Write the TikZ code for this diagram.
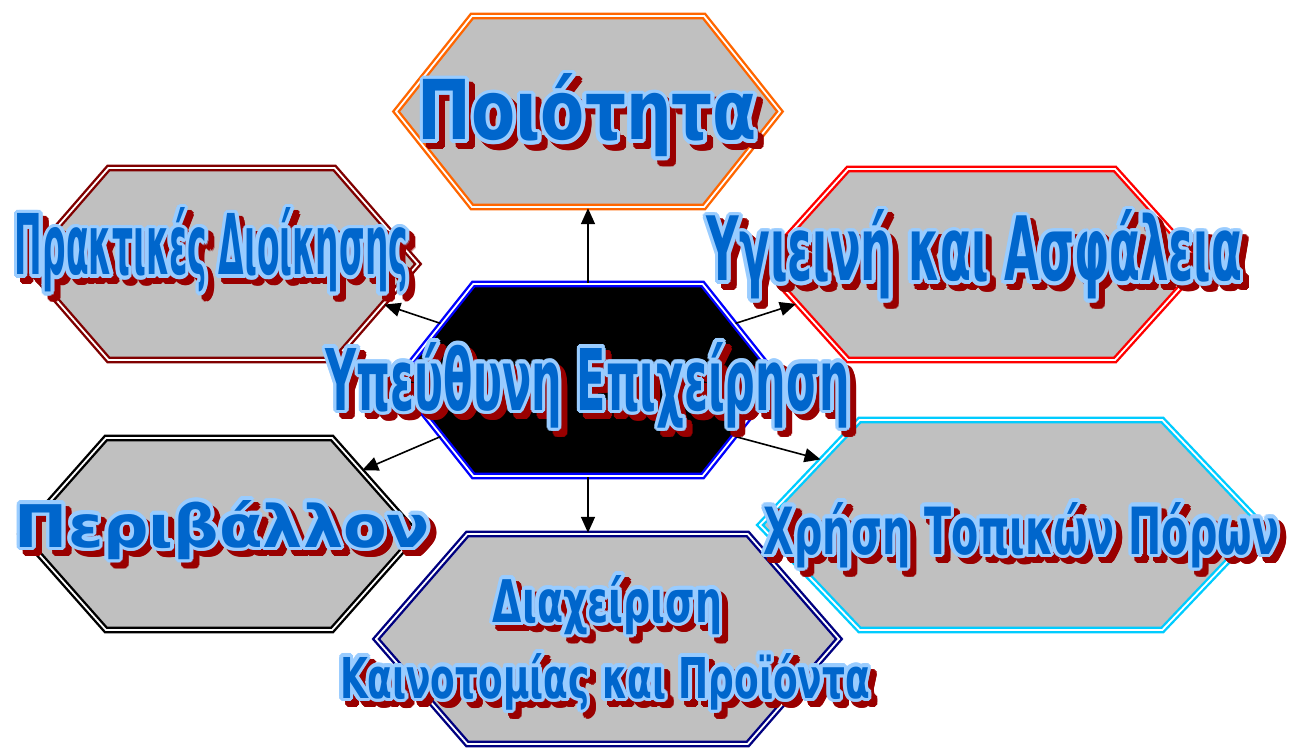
\documentclass[tikz,border=0pt]{standalone}
\usepackage{fontspec}
\usepackage{graphicx}
\usetikzlibrary{shapes.symbols,arrows.meta,calc}
\newfontfamily\hexfont{DejaVu Sans}
\definecolor{hexgrey}{HTML}{C0C0C0}
\definecolor{textblue}{HTML}{0066CC}
\definecolor{rimblue}{HTML}{99CCFF}
\definecolor{shadowred}{HTML}{990000}
\definecolor{qualorange}{HTML}{FF6600}
\definecolor{skyline}{HTML}{00CCFF}
\tikzset{
  hexbox/.style={signal, signal to=east and west, draw=#1, fill=hexgrey,
    line width=1.2pt, double=white, double distance=0.9pt, inner sep=0pt},
  lbl/.style={inner sep=0pt, anchor=base, font=\hexfont\bfseries},
  conn/.style={draw, line width=0.8pt, -{Triangle[length=8pt,width=7pt]}}
}
% name, (x,y) of baseline centre, width, height, text
\newcommand{\fancylabel}[5]{%
  \foreach \ang in {0,22.5,...,337.5}
    \node[lbl, text=shadowred] at ($(#2)+(6,6)+(\ang:3.5)$) {\resizebox{#3}{#4}{#5}};
  \foreach \ang in {0,22.5,...,337.5}
    \node[lbl, text=rimblue] at ($(#2)+(\ang:3.5)$) {\resizebox{#3}{#4}{#5}};
  \node[lbl, text=textblue] (#1) at (#2) {\resizebox{#3}{#4}{#5}};
}
\begin{document}
\begin{tikzpicture}[x=0.5pt,y=-0.5pt]
\useasboundingbox (0,0) rectangle (1298,749);

\node[hexbox=qualorange, signal pointer angle=103, minimum width=192pt, minimum height=95.5pt] (qual) at (588,111.5) {};
\node[hexbox=red!50!black, signal pointer angle=98, minimum width=196.5pt, minimum height=96pt] (prak) at (221.5,264) {};
\node[hexbox=red, signal pointer angle=96, minimum width=219.5pt, minimum height=95.5pt] (health) at (981.5,264.5) {};
\node[hexbox=black, signal pointer angle=97, minimum width=198pt, minimum height=96pt] (env) at (219,534) {};
\node[hexbox=skyline, signal pointer angle=93, minimum width=251pt, minimum height=105pt] (local) at (1011,525) {};
\node[hexbox=blue!50!black, signal pointer angle=98, minimum width=231.5pt, minimum height=105pt] (innov) at (607.5,639) {};
\node[hexbox=blue, fill=black, signal pointer angle=103, minimum width=191pt, minimum height=96pt] (hub) at (588,380) {};

\draw[conn] (hub.north) -- (qual.south);
\draw[conn] (hub.south) -- (hub.south |- innov.north);
\draw[conn] (hub.159) -- (prak.-14);
\draw[conn] (hub.21) -- (health.-168);
\draw[conn] (hub.201) -- (env.24);
\draw[conn] (hub.-21) -- (local.161);

\fancylabel{qualtext}{587.5,140}{169.5pt}{33pt}{Ποιότητα}
\fancylabel{praktext}{211.5,275}{196.5pt}{33.5pt}{Πρακτικές Διοίκησης}
\fancylabel{healthtext}{974.5,281}{267.5pt}{35.5pt}{Υγιεινή και Ασφάλεια}
\fancylabel{envtext}{222.5,547}{207.5pt}{23.5pt}{Περιβάλλον}
\fancylabel{localtext}{1021.5,554}{257.5pt}{26pt}{Χρήση Τοπικών Πόρων}
\fancylabel{innovtexta}{607.5,622}{114.5pt}{23.5pt}{Διαχείριση}
\fancylabel{innovtextb}{605,698}{265pt}{22.5pt}{Καινοτομίας και Προϊόντα}
\fancylabel{hubtext}{588,410}{262pt}{34pt}{Υπεύθυνη Επιχείρηση}
\end{tikzpicture}
\end{document}
